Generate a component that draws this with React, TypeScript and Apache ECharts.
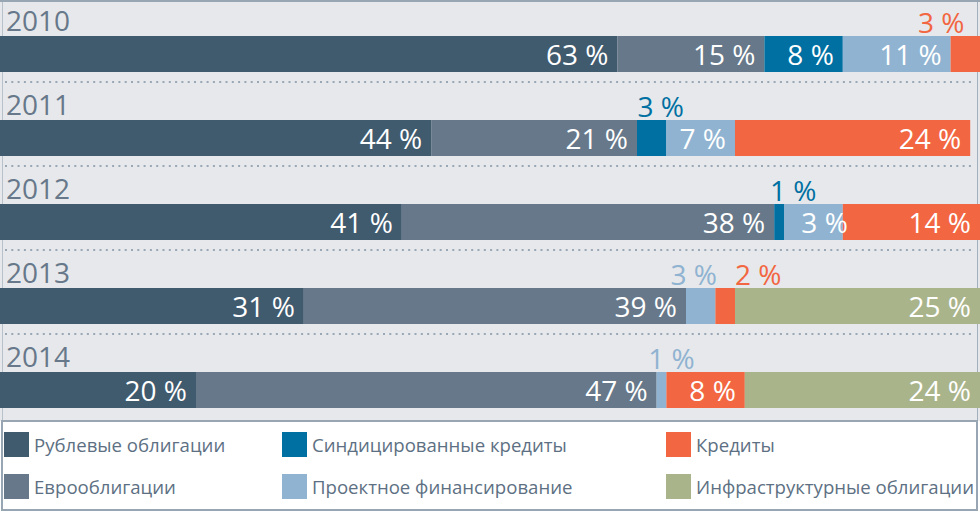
import React, { useEffect, useRef } from 'react';
import * as echarts from 'echarts';

const years = ['2010', '2011', '2012', '2013', '2014'];
const rubBonds = [63, 44, 41, 31, 20];
const euroBonds = [15, 21, 38, 39, 47];
const syndLoans = [8, 3, 1, 0, 0];
// drawn width of the project-finance segment as it appears in the picture
const projectFin = [11, 7, 6, 3, 1];
// printed share of the project-finance segment
const projectFinLabels = [11, 7, 3, 3, 1];
const loans = [3, 24, 14, 2, 8];
const infraBonds = [0, 0, 0, 25, 24];

const names = [
  'Рублевые облигации',
  'Еврооблигации',
  'Синдицированные кредиты',
  'Проектное финансирование',
  'Кредиты',
  'Инфраструктурные облигации',
];
const values = [rubBonds, euroBonds, syndLoans, projectFin, loans, infraBonds];
const labelValues = [rubBonds, euroBonds, syndLoans, projectFinLabels, loans, infraBonds];
const colors = ['#405a6e', '#667889', '#0070a2', '#8fb3d1', '#f26641', '#aab48b'];

// label styling overrides (series index -> data index -> horizontal offset)
const topLabelOffsets: Record<number, Record<number, number>> = {
  2: { 1: 9, 2: 14 },
  3: { 3: -7, 4: 10 },
  4: { 0: -24, 3: 33 },
};
const innerLabelOffsets: Record<number, Record<number, number>> = {
  3: { 2: 14 },
};

const FONT = '"Open Sans", "Noto Sans", sans-serif';
const GRID_TOP = 12;
const BAND = 84;
const BAR_H = 36;

export default function App() {
  const ref = useRef<HTMLDivElement>(null);

  useEffect(() => {
    document.body.style.margin = '0';
    if (!ref.current) return;
    const chart = echarts.init(ref.current, undefined, { renderer: 'svg' });

    const series = names.map((name, si) => ({
      name,
      type: 'bar',
      stack: 'total',
      barWidth: BAR_H,
      itemStyle: { color: colors[si] },
      label: {
        show: true,
        position: 'insideRight',
        distance: 9,
        color: '#ffffff',
        fontSize: 28,
        fontFamily: FONT,
        formatter: (p: any) => {
          const v = labelValues[si][p.dataIndex];
          return v ? `${v} %` : '';
        },
      },
      data: values[si].map((v, di) => {
        const top = topLabelOffsets[si]?.[di];
        const inner = innerLabelOffsets[si]?.[di];
        if (top !== undefined) {
          return {
            value: v,
            label: { position: 'top', color: colors[si], offset: [top, 0], distance: 0 },
          };
        }
        if (inner !== undefined) {
          return { value: v, label: { offset: [inner, 0] } };
        }
        return v;
      }),
    }));

    const dotted = years.slice(0, -1).map((_, i) => {
      const y = GRID_TOP + BAND * (i + 0.5) + BAR_H / 2 + 10;
      return {
        type: 'line',
        z: 1,
        shape: { x1: 5, y1: y, x2: 975, y2: y },
        style: { stroke: '#9aa7b4', lineWidth: 2, lineDash: [2, 4.3] },
      };
    });

    const legendCommon = {
      orient: 'vertical',
      top: 432,
      padding: 0,
      itemWidth: 25,
      itemHeight: 25,
      itemGap: 17,
      icon: 'rect',
      selectedMode: false,
      textStyle: { fontSize: 18.6, color: '#5d7083', fontFamily: FONT },
    };

    chart.setOption({
      animation: false,
      grid: { left: 0, right: 0, top: GRID_TOP, height: BAND * years.length },
      xAxis: { type: 'value', min: 0, max: 100, show: false },
      yAxis: {
        type: 'category',
        inverse: true,
        data: years,
        axisLine: { show: false },
        axisTick: { show: false },
        splitLine: { show: false },
        axisLabel: {
          inside: true,
          margin: 6,
          align: 'left',
          formatter: (v: string) => `{y|${v}}\n{s| }`,
          rich: {
            y: { fontSize: 28, lineHeight: 34, color: '#66788a', fontFamily: FONT },
            s: { fontSize: 10, lineHeight: 68 },
          },
        },
        z: 3,
      },
      legend: [
        { ...legendCommon, left: 4, data: [names[0], names[1]] },
        { ...legendCommon, left: 282, data: [names[2], names[3]] },
        { ...legendCommon, left: 666, data: [names[4], names[5]] },
      ],
      graphic: {
        elements: [
          { type: 'rect', z: 0, shape: { x: 0, y: 0, width: 980, height: 421 }, style: { fill: '#e7e8eb' } },
          { type: 'line', z: 1, shape: { x1: 0, y1: 1, x2: 980, y2: 1 }, style: { stroke: '#98a5b3', lineWidth: 2 } },
          { type: 'line', z: 1, shape: { x1: 2.5, y1: 2, x2: 2.5, y2: 421 }, style: { stroke: '#b8c1ca', lineWidth: 1 } },
          { type: 'line', z: 1, shape: { x1: 977.5, y1: 2, x2: 977.5, y2: 421 }, style: { stroke: '#a3afbb', lineWidth: 1 } },
          {
            type: 'rect',
            z: 1,
            shape: { x: 2, y: 421, width: 975, height: 89 },
            style: { fill: '#ffffff', stroke: '#98a5b3', lineWidth: 2 },
          },
          ...dotted,
        ],
      },
      series,
    } as any);

    return () => chart.dispose();
  }, []);

  return <div ref={ref} style={{ width: 980, height: 512 }} />;
}
